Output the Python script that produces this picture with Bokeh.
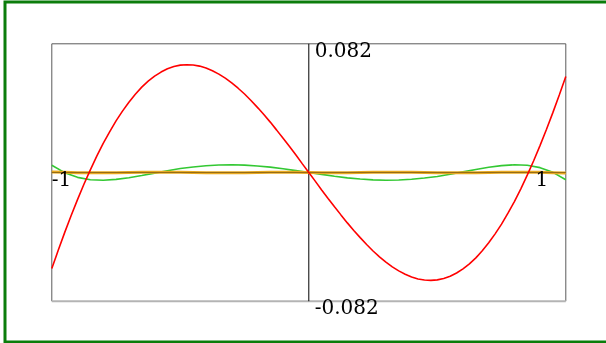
from bokeh.plotting import figure
from bokeh.models import Range1d, BoxAnnotation
from bokeh.core.properties import value
from bokeh.embed import file_html
from bokeh.resources import INLINE

# sample positions along x
x_fine = [round(-1 + 0.025 * i, 3) for i in range(81)]
x_coarse = [round(-1 + 0.05 * i, 2) for i in range(41)]

red_vals = [-0.0612, -0.0496, -0.0383, -0.0276, -0.0173, -0.0075, 0.0017, 0.0104, 0.0185, 0.0259,
            0.0329, 0.0391, 0.0448, 0.0499, 0.0544, 0.0582, 0.0614, 0.0640, 0.0661, 0.0675,
            0.0684, 0.0687, 0.0685, 0.0678, 0.0666, 0.0648, 0.0627, 0.0601, 0.0571, 0.0537,
            0.0500, 0.0459, 0.0415, 0.0369, 0.0321, 0.0270, 0.0218, 0.0165, 0.0111, 0.0055,
            0.0,
            -0.0055, -0.0111, -0.0165, -0.0218, -0.0270, -0.0321, -0.0369, -0.0415, -0.0459, -0.0500,
            -0.0537, -0.0571, -0.0601, -0.0627, -0.0648, -0.0666, -0.0678, -0.0685, -0.0687, -0.0684,
            -0.0675, -0.0661, -0.0640, -0.0614, -0.0582, -0.0544, -0.0499, -0.0448, -0.0391, -0.0329,
            -0.0259, -0.0185, -0.0104, -0.0017, 0.0075, 0.0173, 0.0276, 0.0383, 0.0496, 0.0612]

green_vals = [0.0046, -0.0001, -0.0031, -0.0046, -0.0049, -0.0044, -0.0033, -0.0019, -0.0004, 0.0011,
              0.0025, 0.0035, 0.0043, 0.0048, 0.0049, 0.0047, 0.0041, 0.0034, 0.0024, 0.0012, 0.0,
              -0.0012, -0.0024, -0.0034, -0.0041, -0.0047, -0.0049, -0.0048, -0.0043, -0.0035,
              -0.0025, -0.0011, 0.0004, 0.0019, 0.0033, 0.0044, 0.0049, 0.0046, 0.0031, 0.0001,
              -0.0046]

orange_vals = [0.0003, 0.0001, -0.0001, -0.0002, -0.0002, -0.0001, 0.0, 0.0001, 0.0002, 0.0002,
               0.0001, 0.0, -0.0001, -0.0002, -0.0002, -0.0001, 0.0, 0.0001, 0.0001, 0.0001, 0.0,
               -0.0001, -0.0001, -0.0001, 0.0, 0.0001, 0.0002, 0.0002, 0.0001, 0.0, -0.0001,
               -0.0002, -0.0002, -0.0001, 0.0, 0.0001, 0.0002, 0.0002, 0.0001, -0.0001, -0.0003]

x_min, x_max = -1.0, 1.0
y_max = 0.082
tick_labels = ["0.082", "-0.082", "-1", "1"]

p = figure(width=603, height=343, output_backend="svg", toolbar_location=None,
           x_range=Range1d(-1.18794, 1.15837), y_range=Range1d(-0.10895, 0.10959),
           x_axis_location=None, y_axis_location=None,
           min_border_left=0, min_border_right=0, min_border_top=0, min_border_bottom=0)
p.grid.visible = False
p.outline_line_color = None
p.background_fill_color = "white"
p.border_fill_color = "white"
p.styles = {"position": "fixed", "left": "3px", "top": "0px"}

# green page frame (open on the right side)
p.add_layout(BoxAnnotation(right=1.4, fill_color=None, fill_alpha=0,
                           line_color="#0b7d0b", line_alpha=1.0, line_width=6))

# plot box: dark on left/top/right, light at bottom
p.line([x_min, x_min, x_max, x_max], [-y_max, y_max, y_max, -y_max],
       line_color="#5a5a5a", line_width=1)
p.line([x_min, x_max], [-y_max, -y_max], line_color="#b4b4b4", line_width=2)
# vertical axis through the origin
p.line([0, 0], [-y_max, y_max], line_color="black", line_width=1)

p.line(x_coarse, green_vals, line_color="#33c833", line_width=1.6)
p.line(x_coarse, orange_vals, line_color="#e8a820", line_width=3)
p.line([x_min, x_max], [0, 0], line_color="#000000", line_width=1, line_alpha=0.35)
p.line(x_fine, red_vals, line_color="#ff0000", line_width=1.6)

font = value("DejaVu Serif")
p.text(x=[0.023, 0.023, -1.0], y=[0.0786, -0.0854, -0.0041],
       text=[tick_labels[0], tick_labels[1], tick_labels[2]],
       text_font=font, text_font_size="20px", text_color="black",
       text_baseline="alphabetic", text_align="left")
p.text(x=[0.907], y=[-0.0041], text=[tick_labels[3]],
       text_font=font, text_font_size="20px", text_color="black",
       text_baseline="alphabetic", text_align="center")

open("out.html", "w").write(file_html(p, INLINE))
